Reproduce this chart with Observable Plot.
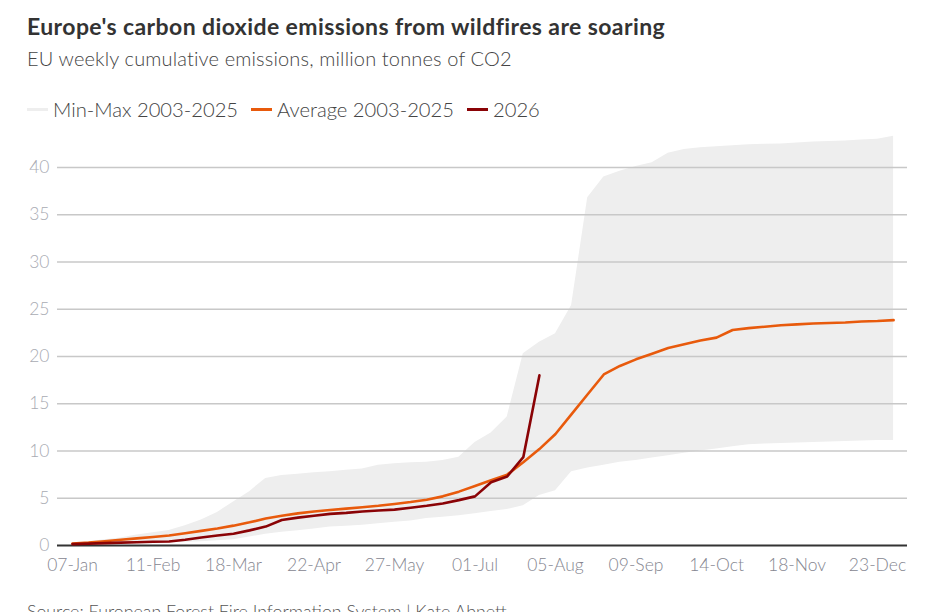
<!DOCTYPE html>
<html><head><meta charset="utf-8">
<script src="https://cdn.jsdelivr.net/npm/d3@7"></script>
<script src="https://cdn.jsdelivr.net/npm/@observablehq/plot@0.6"></script>
<style>
body{margin:0;background:#fff;font-family:Lato, "Noto Sans", sans-serif;}
#wrap{position:relative;width:938px;height:612px;overflow:hidden;}
#title{position:absolute;left:27px;top:12px;font-size:23px;letter-spacing:0.4px;font-weight:700;color:#333;white-space:nowrap;}
#subtitle{position:absolute;left:27px;top:46px;font-size:20px;letter-spacing:0.15px;font-weight:300;color:#444;white-space:nowrap;}
#legend{position:absolute;left:27px;top:97px;font-size:20.2px;font-weight:300;color:#444;white-space:nowrap;display:flex;align-items:center;}
.item{display:flex;align-items:center;margin-right:13px;}
.sw{display:inline-block;width:21px;height:3px;margin-right:5px;}
#chart{position:absolute;left:0;top:125px;}
#caption{position:absolute;left:27px;top:600px;font-size:17.8px;font-weight:300;color:#555;white-space:nowrap;}
</style></head><body>
<div id="wrap">
<div id="title">Europe's carbon dioxide emissions from wildfires are soaring</div>
<div id="subtitle">EU weekly cumulative emissions, million tonnes of CO2</div>
<div id="legend"></div>
<div id="chart"></div>
<div id="caption">Source: European Forest Fire Information System | Kate Abnett</div>
</div>
<script>
// weekly x categories (52 weeks starting 07-Jan)
const startDate = new Date(Date.UTC(2026, 0, 7));
const nWeeks = 52;
const dates = d3.range(nWeeks).map(i => d3.utcDay.offset(startDate, 7 * i));

const tickLabels = ["07-Jan","11-Feb","18-Mar","22-Apr","27-May","01-Jul","05-Aug","09-Sep","14-Oct","18-Nov","23-Dec"];
const yTicks = [0, 5, 10, 15, 20, 25, 30, 35, 40];

const minValues = [0.0,0.05,0.1,0.15,0.2,0.25,0.3,0.35,0.4,0.5,0.6,0.9,1.2,1.4,1.55,1.75,1.95,2.05,2.15,2.3,2.45,2.6,2.85,3.0,3.15,3.35,3.6,3.8,4.2,5.3,5.8,7.8,8.2,8.5,8.8,9.0,9.25,9.5,9.75,10.0,10.2,10.45,10.65,10.75,10.8,10.85,10.9,10.95,11.0,11.05,11.1,11.1];
const maxValues = [0.2,0.4,0.6,0.8,1.1,1.35,1.6,2.1,2.7,3.5,4.6,5.7,7.1,7.4,7.55,7.7,7.8,7.95,8.1,8.5,8.65,8.75,8.8,9.0,9.35,10.9,11.9,13.6,20.3,21.5,22.4,25.4,36.8,39.0,39.6,40.1,40.5,41.5,41.9,42.1,42.2,42.3,42.4,42.45,42.5,42.6,42.7,42.75,42.8,42.9,43.0,43.3];
const avgValues = [0.2,0.3,0.45,0.6,0.75,0.9,1.05,1.3,1.55,1.8,2.1,2.45,2.85,3.15,3.4,3.6,3.75,3.9,4.05,4.2,4.4,4.6,4.85,5.2,5.7,6.3,6.9,7.5,8.8,10.2,11.8,13.9,16.0,18.1,19.0,19.7,20.3,20.9,21.3,21.7,22.0,22.8,23.0,23.15,23.3,23.4,23.5,23.55,23.6,23.7,23.75,23.85];
const values2026 = [0.15,0.2,0.25,0.3,0.35,0.4,0.42,0.6,0.85,1.05,1.25,1.6,2.0,2.7,2.95,3.15,3.35,3.45,3.6,3.7,3.8,4.0,4.2,4.45,4.8,5.2,6.7,7.3,9.35,18.0];

const seriesNames = ["Min-Max 2003-2025", "Average 2003-2025", "2026"];
const seriesColors = ["#eeeeee", "#e85a0c", "#8a0306"];

const rows = dates.map((d, i) => ({date: d, min: minValues[i], max: maxValues[i], avg: avgValues[i]}));
const rows2026 = values2026.map((v, i) => ({date: dates[i], v}));
const tickDates = tickLabels.map((_, k) => dates[k * 5]);
const labelMap = new Map(tickDates.map((d, k) => [+d, tickLabels[k]]));

// legend
const legend = document.getElementById("legend");
seriesNames.forEach((n, i) => {
  const it = document.createElement("span");
  it.className = "item";
  it.innerHTML = `<span class="sw" style="background:${seriesColors[i]}"></span><span>${n}</span>`;
  legend.appendChild(it);
});

const chart = Plot.plot({
  width: 938,
  height: 460,
  marginLeft: 57,
  marginRight: 31,
  marginTop: 4.2,
  marginBottom: 40,
  x: {type: "utc", domain: [dates[0], dates[nWeeks - 1]], range: [72, 893.1]},
  y: {domain: [0, 44]},
  style: {fontFamily: "Lato, 'Noto Sans', sans-serif", fontSize: "17.5px", background: "transparent"},
  marks: [
    Plot.areaY(rows, {x: "date", y1: "min", y2: "max", fill: seriesColors[0]}),
    Plot.ruleY(yTicks.filter(d => d > 0), {stroke: "#c8c8c8", strokeWidth: 1.5}),
    Plot.ruleY([0], {stroke: "#333", strokeWidth: 2}),
    Plot.lineY(rows, {x: "date", y: "avg", stroke: seriesColors[1], strokeWidth: 2.6, strokeLinejoin: "round"}),
    Plot.lineY(rows2026, {x: "date", y: "v", stroke: seriesColors[2], strokeWidth: 2.6, strokeLinejoin: "round"}),
    Plot.axisY({ticks: yTicks, tickSize: 0, tickPadding: 8, fill: "#a9abb3", fontWeight: 300, label: null}),
    Plot.axisX({ticks: tickDates, tickFormat: d => labelMap.get(+d), tickSize: 0, tickPadding: 13, fill: "#858690", fontWeight: 300, label: null})
  ]
});
document.getElementById("chart").appendChild(chart);
</script>
</body></html>
